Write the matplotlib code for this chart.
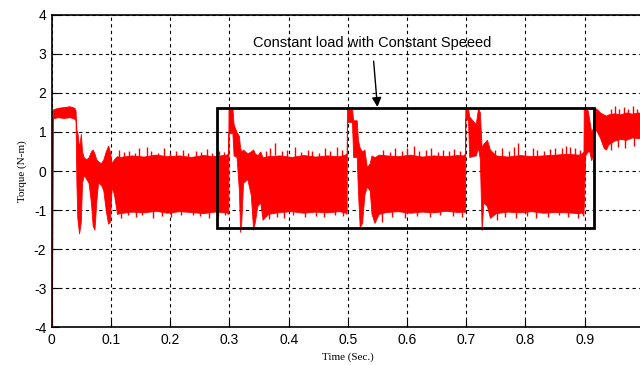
import matplotlib
matplotlib.use("Agg")
import matplotlib.pyplot as plt
from matplotlib.patches import Rectangle

plt.rcParams["axes.unicode_minus"] = False

# envelope of the torque signal (time in s, torque in N-m)
t_start = [0.000, 0.002, 0.010, 0.020, 0.030, 0.038, 0.040, 0.0415, 0.043, 0.046,
           0.049, 0.051, 0.054, 0.058, 0.062, 0.066, 0.069, 0.072, 0.075, 0.078,
           0.083, 0.087, 0.091, 0.095, 0.098, 0.101, 0.105, 0.110]
up_start = [1.20, 1.58, 1.62, 1.64, 1.66, 1.62, 1.55, 1.05, 1.00, 0.60,
            0.95, 0.50, 0.35, 0.30, 0.35, 0.50, 0.55, 0.45, 0.30, 0.25,
            0.20, 0.30, 0.50, 0.65, 0.50, 0.20, 0.30, 0.38]
lo_start = [-4.0, 1.35, 1.38, 1.36, 1.38, 1.34, 1.30, -0.30, -1.20, -1.60,
            -1.30, -0.30, -0.10, -0.20, -0.30, -0.80, -1.40, -1.50, -0.80, -0.30,
            -0.35, -0.50, -1.00, -1.35, -1.30, -0.40, -0.60, -1.10]

t_a = [0.115, 0.135, 0.155, 0.175, 0.195, 0.215, 0.235, 0.255, 0.275, 0.295]
up_a = [0.36, 0.40, 0.37, 0.42, 0.38, 0.40, 0.36, 0.41, 0.38, 0.42]
lo_a = [-1.08, -1.04, -1.06, -1.02, -1.07, -1.03, -1.05, -1.08, -1.04, -1.06]

t_b = [0.298, 0.2985, 0.305, 0.307, 0.312, 0.316, 0.318, 0.320, 0.323, 0.330,
       0.336, 0.340, 0.343, 0.347, 0.352, 0.356]
up_b = [0.45, 1.62, 1.62, 1.20, 1.00, 0.90, 0.60, 0.50, 0.55, 0.45,
        0.50, 0.55, 0.45, 0.40, 0.50, 0.35]
lo_b = [-1.10, 0.97, 0.97, 0.40, 0.36, -0.50, -1.56, -1.30, -0.30, -0.20,
        -0.60, -1.50, -1.30, -0.90, -0.80, -1.25]

t_c = [0.365, 0.385, 0.405, 0.425, 0.445, 0.465, 0.485, 0.495]
up_c = [0.38, 0.40, 0.36, 0.41, 0.37, 0.40, 0.38, 0.42]
lo_c = [-1.10, -1.05, -1.03, -1.07, -1.04, -1.06, -1.03, -1.06]

t_d = [0.498, 0.4985, 0.507, 0.509, 0.515, 0.517, 0.520, 0.524, 0.528, 0.532,
       0.537, 0.540, 0.545, 0.552]
up_d = [0.45, 1.62, 1.60, 1.30, 1.30, 0.80, 0.60, 0.50, 0.55, 0.10,
        0.20, 0.40, 0.35, 0.42]
lo_d = [-1.10, 1.26, 1.26, 0.36, 0.36, -0.50, -1.44, -1.33, -0.60, -0.40,
        -0.50, -1.10, -1.33, -1.10]

t_e = [0.565, 0.585, 0.605, 0.625, 0.645, 0.665, 0.685, 0.695]
up_e = [0.40, 0.38, 0.42, 0.37, 0.40, 0.38, 0.41, 0.40]
lo_e = [-1.05, -1.03, -1.07, -1.04, -1.06, -1.02, -1.05, -1.04]

t_f = [0.698, 0.6985, 0.703, 0.705, 0.716, 0.720, 0.723, 0.726, 0.729, 0.735,
       0.740]
up_f = [0.45, 1.62, 1.60, 1.40, 1.20, 1.62, 1.50, 0.60, 0.70, 0.80, 0.55]
lo_f = [-1.05, 1.35, 1.30, 0.36, 0.40, 0.60, 0.30, -1.51, -0.80, -0.90, -1.20]

t_g = [0.750, 0.770, 0.790, 0.810, 0.830, 0.850, 0.870, 0.890, 0.895]
up_g = [0.40, 0.37, 0.41, 0.38, 0.40, 0.42, 0.44, 0.42, 0.45]
lo_g = [-1.08, -1.04, -1.06, -1.03, -1.07, -1.05, -1.06, -1.08, -1.06]

t_h = [0.898, 0.8985, 0.901, 0.905, 0.908, 0.911, 0.914, 0.917, 0.921, 0.926,
       0.932, 0.936, 0.940, 0.950, 0.960, 0.970, 0.980, 0.990, 1.000]
up_h = [0.50, 1.62, 1.62, 1.56, 1.30, 1.00, 1.10, 1.62, 1.58, 1.50,
        1.45, 1.42, 1.45, 1.48, 1.45, 1.50, 1.47, 1.50, 1.48]
lo_h = [-1.15, -0.90, 0.40, 0.50, 0.50, 0.28, 0.40, 1.10, 1.00, 0.85,
        0.60, 0.55, 0.68, 0.78, 0.82, 0.80, 0.86, 0.84, 0.86]

# thin noise spikes sticking out of the band
spike_up_t = [0.113, 0.122, 0.131, 0.140, 0.148, 0.160, 0.168, 0.180, 0.190, 0.199,
              0.210, 0.221, 0.230, 0.243, 0.252, 0.262, 0.271, 0.283, 0.291,
              0.362, 0.369, 0.377, 0.388, 0.398, 0.410, 0.421, 0.432, 0.440, 0.451,
              0.462, 0.470, 0.481, 0.490, 0.560, 0.571, 0.580, 0.592, 0.600, 0.611,
              0.620, 0.632, 0.641, 0.652, 0.660, 0.671, 0.680, 0.690, 0.748, 0.760,
              0.772, 0.781, 0.788, 0.800, 0.812, 0.820, 0.831, 0.842, 0.850, 0.861,
              0.868, 0.876, 0.884, 0.893, 0.945, 0.952, 0.958, 0.966, 0.973, 0.981,
              0.988, 0.995]
spike_up_v = [0.55, 0.48, 0.52, 0.46, 0.58, 0.62, 0.50, 0.47, 0.58, 0.45,
              0.52, 0.55, 0.47, 0.52, 0.48, 0.56, 0.46, 0.50, 0.48,
              0.52, 0.60, 0.72, 0.50, 0.55, 0.62, 0.48, 0.55, 0.50, 0.47,
              0.58, 0.52, 0.62, 0.55, 0.55, 0.48, 0.60, 0.52, 0.58, 0.65,
              0.50, 0.55, 0.58, 0.48, 0.55, 0.50, 0.56, 0.52, 0.55, 0.58,
              0.50, 0.62, 0.72, 0.52, 0.58, 0.55, 0.50, 0.56, 0.60, 0.58,
              0.65, 0.62, 0.60, 0.55, 1.60, 1.66, 1.58, 1.64, 1.60, 1.66,
              1.58, 1.62]
spike_lo_t = [0.117, 0.128, 0.142, 0.152, 0.171, 0.186, 0.202, 0.218, 0.238, 0.251,
              0.266, 0.280, 0.292, 0.366, 0.380, 0.393, 0.408, 0.428, 0.446, 0.460,
              0.478, 0.492, 0.558, 0.575, 0.596, 0.616, 0.638, 0.656, 0.678, 0.692,
              0.752, 0.766, 0.784, 0.802, 0.818, 0.838, 0.856, 0.872, 0.888, 0.944,
              0.956, 0.968, 0.984]
spike_lo_v = [-1.20, -1.14, -1.18, -1.12, -1.20, -1.15, -1.18, -1.14, -1.12, -1.16,
              -1.20, -1.15, -1.12, -1.22, -1.18, -1.20, -1.14, -1.18, -1.15, -1.18,
              -1.12, -1.16, -1.30, -1.18, -1.20, -1.15, -1.18, -1.14, -1.15, -1.18,
              -1.25, -1.18, -1.20, -1.15, -1.20, -1.18, -1.14, -1.18, -1.20, 0.55,
              0.62, 0.58, 0.65]

t_sig = t_start + t_a + t_b + t_c + t_d + t_e + t_f + t_g + t_h
upper = up_start + up_a + up_b + up_c + up_d + up_e + up_f + up_g + up_h
lower = lo_start + lo_a + lo_b + lo_c + lo_d + lo_e + lo_f + lo_g + lo_h

box_t = [0.279, 0.915]
box_y = [-1.46, 1.62]

fig = plt.figure(figsize=(6.4, 3.65), dpi=100)
ax = fig.add_axes([0.081, 0.104, 0.925, 0.855])

red = "#ff0000"
ax.fill_between(t_sig, lower, upper, color=red, lw=0.6, edgecolor=red, zorder=2)
ax.vlines(t_sig[0], lower[0], upper[0], color=red, lw=1.5, zorder=2)
ax.vlines(spike_up_t, [v - 0.3 for v in spike_up_v], spike_up_v, color=red, lw=1.0, zorder=2)
ax.vlines(spike_lo_t, spike_lo_v, [v + 0.3 for v in spike_lo_v], color=red, lw=1.0, zorder=2)

ax.add_patch(Rectangle((box_t[0], box_y[0]), box_t[1] - box_t[0], box_y[1] - box_y[0],
                       fill=False, edgecolor="black", lw=2, zorder=4))

ax.annotate("Constant load with Constant Speeed", xy=(0.55, 1.64), xytext=(0.541, 3.28),
            ha="center", va="center", fontsize=10.5, family="Liberation Sans",
            arrowprops=dict(arrowstyle="-|>", color="black", lw=1,
                            mutation_scale=14, shrinkA=6, shrinkB=0), zorder=5)

ax.set_xlim(0, 1)
ax.set_ylim(-4, 4)
ax.set_xticks([0, 0.1, 0.2, 0.3, 0.4, 0.5, 0.6, 0.7, 0.8, 0.9])
ax.set_xticklabels(["0", "0.1", "0.2", "0.3", "0.4", "0.5", "0.6", "0.7", "0.8", "0.9"])
ax.set_yticks(range(-4, 5))
ax.grid(True, color="black", ls=(0, (3, 3)), lw=0.8, zorder=1)
ax.set_axisbelow(True)
ax.tick_params(direction="in", length=5, labelsize=10, colors="black", pad=4)
for lab in ax.get_xticklabels() + ax.get_yticklabels():
    lab.set_family("Liberation Sans")
for s in ax.spines.values():
    s.set_linewidth(1.2)

ax.set_xlabel("Time (Sec.)", family="Liberation Serif", fontsize=8, labelpad=4)
ax.set_ylabel("Torque (N-m)", family="Liberation Serif", fontsize=8, labelpad=5)

fig.savefig("out.png", dpi=100)
